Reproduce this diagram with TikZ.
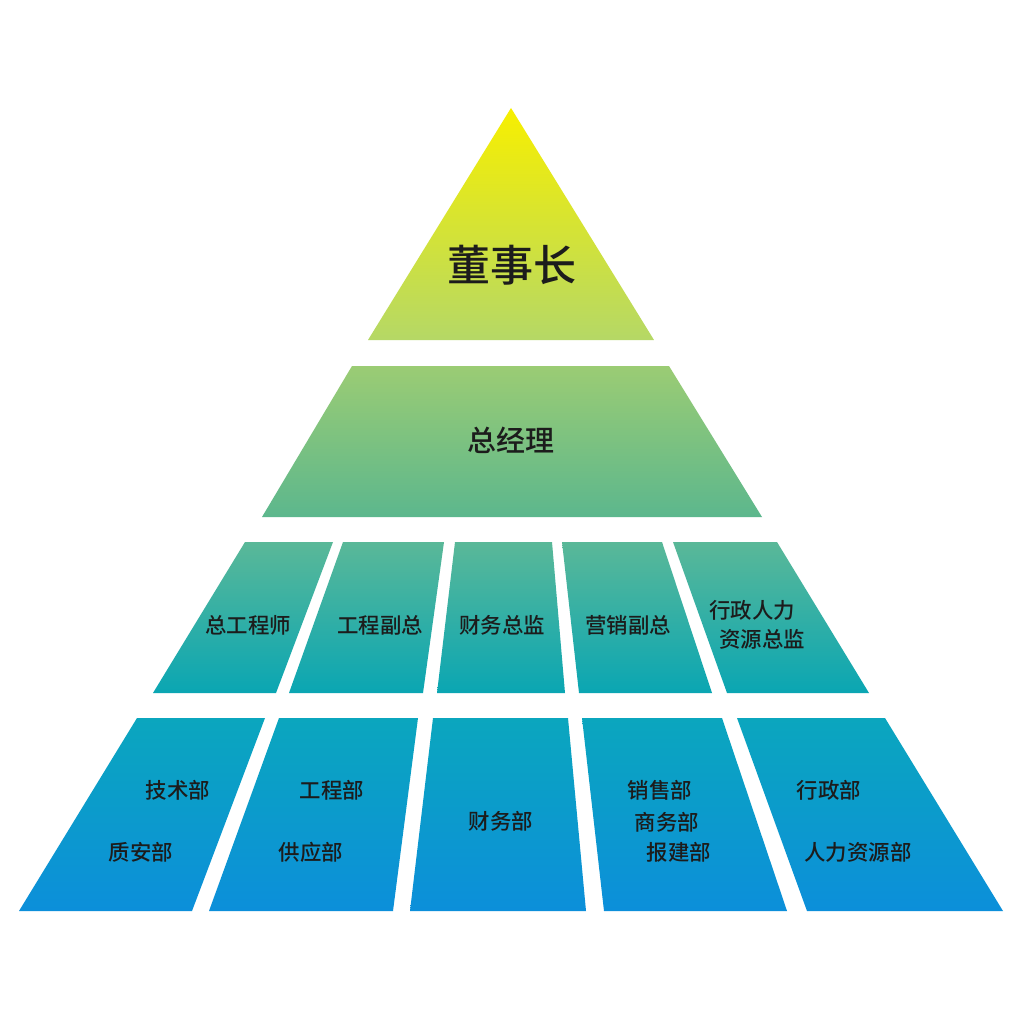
\documentclass[tikz,border=0pt]{standalone}
\usepackage{fontspec}
\usepackage{tikz}
\IfFontExistsTF{Noto Sans CJK SC Medium}
  {\newfontfamily\cjk{Noto Sans CJK SC Medium}}
  {\newfontfamily\cjk{Noto Sans CJK SC}}
\definecolor{topA}{HTML}{F7EF00}
\definecolor{topB}{HTML}{B5D866}
\definecolor{gmA}{HTML}{9BCC74}
\definecolor{gmB}{HTML}{5CB78D}
\definecolor{vpA}{HTML}{5AB898}
\definecolor{vpB}{HTML}{0AA6B3}
\definecolor{depA}{HTML}{0BA6BE}
\definecolor{depB}{HTML}{0C8FDA}
\definecolor{ink}{HTML}{1C1C1C}

\begin{document}
\begin{tikzpicture}[x=0.02cm, y=-0.02cm,
    lbl/.style={font=\cjk\fontsize{12.2}{14}\selectfont, text=ink, inner sep=0pt},
    gmlbl/.style={font=\cjk\fontsize{16.5}{18}\selectfont, text=ink, inner sep=0pt},
    toplbl/.style={font=\cjk\fontsize{24.5}{26}\selectfont, text=ink, inner sep=0pt}]
%%   kw   (name)   (x, y)   {text}
    \useasboundingbox (0,0) rectangle (1024,1024);
    \fill[white] (0,0) rectangle (1024,1024);
    % level 1
    \shade[top color=topA, bottom color=topB] (511,108) -- (654,340) -- (368,340) -- cycle;
    % level 2
    \shade[top color=gmA, bottom color=gmB] (352,366) -- (669,366) -- (762,517) -- (262,517) -- cycle;
    % level 3
    \shade[top color=vpA, bottom color=vpB] (245,542) -- (333,542) -- (276,693) -- (153,693) -- cycle;
    \shade[top color=vpA, bottom color=vpB] (343,542) -- (444,542) -- (423,693) -- (289,693) -- cycle;
    \shade[top color=vpA, bottom color=vpB] (455,542) -- (552,542) -- (565,693) -- (437,693) -- cycle;
    \shade[top color=vpA, bottom color=vpB] (562,542) -- (662,542) -- (712,693) -- (579,693) -- cycle;
    \shade[top color=vpA, bottom color=vpB] (673,542) -- (777,542) -- (869,693) -- (727,693) -- cycle;
    % level 4
    \shade[top color=depA, bottom color=depB] (137,718) -- (265,718) -- (192,911) -- (19,911) -- cycle;
    \shade[top color=depA, bottom color=depB] (279,718) -- (418,718) -- (393,911) -- (209,911) -- cycle;
    \shade[top color=depA, bottom color=depB] (433,718) -- (568,718) -- (586,911) -- (410,911) -- cycle;
    \shade[top color=depA, bottom color=depB] (582,718) -- (722,718) -- (787,911) -- (604,911) -- cycle;
    \shade[top color=depA, bottom color=depB] (737,718) -- (885,718) -- (1003,911) -- (807,911) -- cycle;

    \node[toplbl] (chair) at (512,265) {董事长};
    \node[gmlbl] (gm) at (511,440) {总经理};

    \node[lbl] (chiefeng) at (248,625) {总工程师};
    \node[lbl] (engvp) at (380,625) {工程副总};
    \node[lbl] (cfo) at (502,625) {财务总监};
    \node[lbl] (salesvp) at (628,625) {营销副总};
    \node[lbl] (hrvpa) at (752,610) {行政人力};
    \node[lbl] (hrvpb) at (762,639) {资源总监};

    \node[lbl] (tech) at (178,790) {技术部};
    \node[lbl] (qs) at (141,852) {质安部};
    \node[lbl] (eng) at (332,790) {工程部};
    \node[lbl] (supply) at (311,852) {供应部};
    \node[lbl] (fin) at (501,821) {财务部};
    \node[lbl] (sales) at (660,790) {销售部};
    \node[lbl] (biz) at (667,822) {商务部};
    \node[lbl] (permit) at (679,852) {报建部};
    \node[lbl] (admin) at (829,790) {行政部};
    \node[lbl] (hr) at (858,852) {人力资源部};
\end{tikzpicture}
\end{document}
